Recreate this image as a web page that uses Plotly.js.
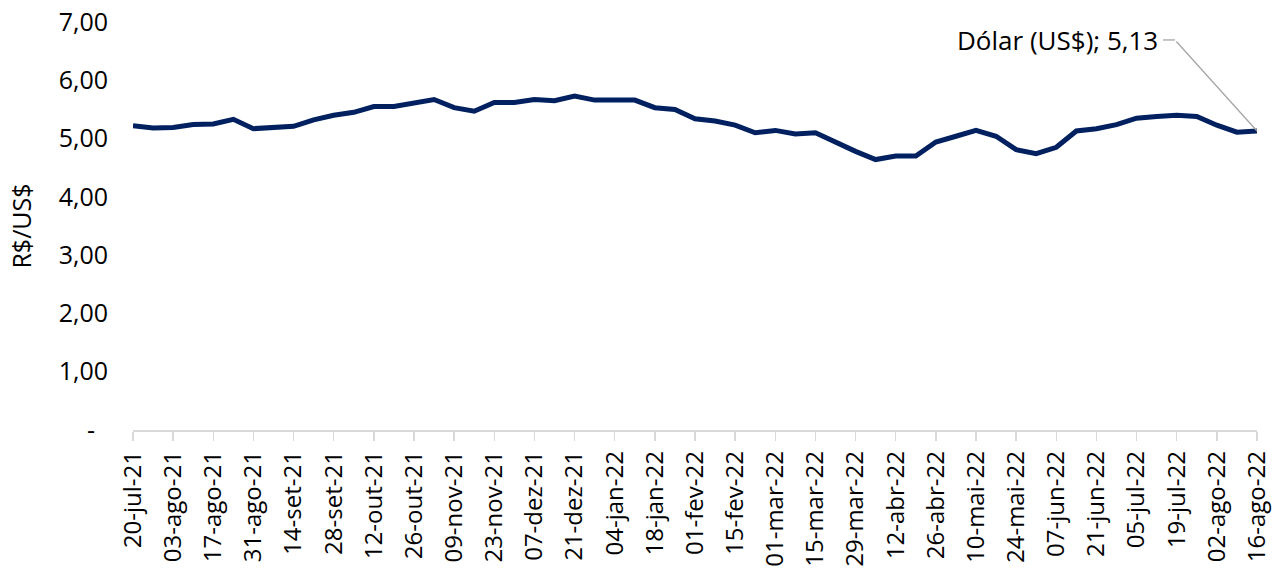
<!DOCTYPE html>
<html>
<head>
<meta charset="utf-8">
<script src="https://cdn.plot.ly/plotly-3.0.1.min.js"></script>
<style>html,body{margin:0;padding:0;background:#fff;}#chart{width:1286px;height:573px;}</style>
</head>
<body>
<div id="chart"></div>
<script>
const weeks = [
  "20-jul-21","27-jul-21","03-ago-21","10-ago-21","17-ago-21","24-ago-21","31-ago-21","07-set-21",
  "14-set-21","21-set-21","28-set-21","05-out-21","12-out-21","19-out-21","26-out-21","02-nov-21",
  "09-nov-21","16-nov-21","23-nov-21","30-nov-21","07-dez-21","14-dez-21","21-dez-21","28-dez-21",
  "04-jan-22","11-jan-22","18-jan-22","25-jan-22","01-fev-22","08-fev-22","15-fev-22","22-fev-22",
  "01-mar-22","08-mar-22","15-mar-22","22-mar-22","29-mar-22","05-abr-22","12-abr-22","19-abr-22",
  "26-abr-22","03-mai-22","10-mai-22","17-mai-22","24-mai-22","31-mai-22","07-jun-22","14-jun-22",
  "21-jun-22","28-jun-22","05-jul-22","12-jul-22","19-jul-22","26-jul-22","02-ago-22","09-ago-22",
  "16-ago-22"
];
const dolar = [
  5.22,5.18,5.19,5.24,5.25,5.33,5.17,5.18,
  5.21,5.32,5.40,5.45,5.55,5.55,5.61,5.67,
  5.53,5.47,5.62,5.62,5.67,5.65,5.73,5.66,
  5.66,5.66,5.53,5.50,5.34,5.30,5.23,5.10,
  5.14,5.08,5.10,4.93,4.78,4.64,4.70,4.70,
  4.94,5.04,5.14,5.04,4.81,4.74,4.85,5.13,
  5.17,5.24,5.35,5.38,5.40,5.38,5.23,5.11,
  5.13
];
const xTickLabels = weeks.filter((w, i) => i % 2 === 0);
const yTickVals = [0,1,2,3,4,5,6,7];
const yTickText = ["-\u00a0\u00a0","1,00","2,00","3,00","4,00","5,00","6,00","7,00"];
const seriesName = "Dólar (US$)";
const yTitle = "R$/US$";

const FONT = "Open Sans, Noto Sans, sans-serif";
const lastIdx = dolar.length - 1;
const labelText = seriesName + "; " + dolar[lastIdx].toFixed(2).replace(".", ",");

const trace = {
  x: weeks, y: dolar, type: "scatter", mode: "lines", name: seriesName,
  line: {color: "#002060", width: 5}, hoverinfo: "x+y"
};

const layout = {
  width: 1286, height: 573,
  margin: {l: 133, r: 29, t: 22, b: 143},
  paper_bgcolor: "#ffffff", plot_bgcolor: "#ffffff",
  showlegend: false,
  font: {family: FONT, color: "#000000"},
  xaxis: {
    type: "category",
    range: [0, lastIdx],
    tickmode: "array", tickvals: xTickLabels, ticktext: xTickLabels,
    tickangle: -90,
    tickfont: {size: 24, family: FONT, color: "#000"},
    ticks: "outside", ticklen: 9, tickcolor: "#d9d9d9", tickwidth: 1.5,
    showline: true, linecolor: "#d9d9d9", linewidth: 1.5,
    showgrid: false, zeroline: false,
    ticklabelstandoff: 1,
    fixedrange: true
  },
  yaxis: {
    range: [0, 7],
    tickmode: "array", tickvals: yTickVals, ticktext: yTickText,
    tickfont: {size: 25, family: FONT, color: "#000"},
    showline: false, showgrid: false, zeroline: false, ticks: "",
    ticklabelstandoff: 24,
    title: {text: yTitle, font: {size: 25, family: FONT, color: "#000"}, standoff: 19},
    fixedrange: true
  },
  shapes: [{
    type: "line", xref: "paper", yref: "paper",
    x0: 0.9164, x1: 0.9270, y0: 0.956, y1: 0.956,
    line: {color: "#a6a6a6", width: 1.3}
  }],
  annotations: [
    {
      x: weeks[lastIdx], y: dolar[lastIdx], xref: "x", yref: "y",
      text: "", showarrow: true, arrowhead: 0, arrowwidth: 1.3, arrowcolor: "#a6a6a6",
      ax: -82, ay: -91, standoff: 0, startstandoff: 0
    },
    {
      x: 0.9137, y: 0.956, xref: "paper", yref: "paper",
      text: labelText, showarrow: false, xanchor: "right", yanchor: "middle",
      font: {size: 26, family: FONT, color: "#000"}
    }
  ]
};

Plotly.newPlot("chart", [trace], layout, {displayModeBar: false, staticPlot: true});
</script>
</body>
</html>
